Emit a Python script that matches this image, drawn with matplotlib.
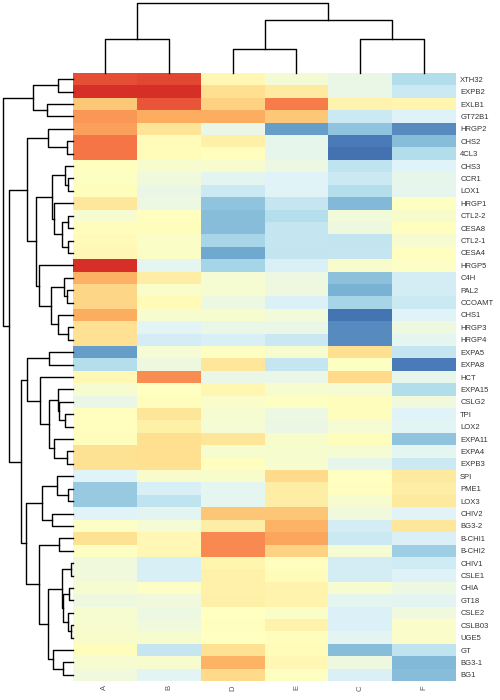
import numpy as np
import matplotlib

matplotlib.use("Agg")
import matplotlib.pyplot as plt

plt.rcParams["font.family"] = ["Liberation Sans", "DejaVu Sans"]

# rows in the order shown (top to bottom)
genes = ["XTH32", "EXPB2", "EXLB1", "GT72B1", "HRGP2", "CHS2", "4CL3", "CHS3",
         "CCR1", "LOX1", "HRGP1", "CTL2-2", "CESA8", "CTL2-1", "CESA4", "HRGP5",
         "C4H", "PAL2", "CCOAMT", "CHS1", "HRGP3", "HRGP4", "EXPA5", "EXPA8",
         "HCT", "EXPA15", "CSLG2", "TPI", "LOX2", "EXPA11", "EXPA4", "EXPB3",
         "SPI", "PME1", "LOX3", "CHIV2", "BG3-2", "B-CHI1", "B-CHI2", "CHIV1",
         "CSLE1", "CHIA", "GT18", "CSLE2", "CSLB03", "UGE5", "GT", "BG3-1", "BG1"]
samples = ["A", "B", "D", "E", "C", "F"]

# scaled expression per sample (column order as shown)
A = [1.4, 1.6, 0.6, 0.95, 0.88, 1.15, 1.15, 0.0, -0.03, 0.02, 0.3, -0.12, 0.03,
     0.07, 0.1, 1.6, 0.78, 0.48, 0.48, 0.8, 0.38, 0.38, -1.3, -0.72, 0.1, -0.12,
     -0.28, 0.0, 0.0, 0.03, 0.37, 0.38, -0.4, -0.95, -0.95, -0.4, -0.04, 0.37,
     -0.03, -0.2, -0.2, -0.12, -0.22, -0.12, -0.12, -0.08, 0.02, -0.12, -0.2]
B = [1.45, 1.6, 1.35, 0.8, 0.35, 0.05, 0.06, -0.1, -0.2, -0.28, -0.25, 0.0, 0.02,
     -0.05, -0.06, -0.34, 0.22, -0.07, 0.07, -0.12, -0.36, -0.5, -0.13, -0.22, 1.0,
     -0.01, 0.02, 0.32, 0.2, 0.4, 0.4, 0.4, -0.08, -0.46, -0.65, -0.35, -0.13, 0.1,
     0.1, -0.46, -0.46, -0.04, -0.2, -0.24, -0.2, -0.1, -0.6, -0.1, -0.36]
D = [0.1, 0.4, 0.5, 0.8, -0.28, 0.2, 0.0, -0.1, -0.35, -0.55, -1.0, -1.05, -1.05,
     -0.82, -1.22, -0.83, -0.14, -0.12, -0.25, -0.1, -0.28, -0.46, -0.02, 0.3,
     -0.28, 0.12, -0.07, -0.12, -0.14, 0.33, -0.1, 0.0, -0.08, -0.34, -0.34, 0.62,
     0.22, 1.02, 1.02, 0.13, 0.18, 0.18, 0.2, -0.01, 0.01, -0.01, 0.37, 0.75, 0.45]
E = [-0.15, 0.25, 1.1, 0.6, -1.3, -0.3, -0.3, -0.25, -0.4, -0.38, -0.6, -0.72, -0.6,
     -0.6, -0.62, -0.45, -0.25, -0.23, -0.43, -0.18, -0.28, -0.57, -0.1, -0.6,
     -0.28, -0.1, -0.02, -0.25, -0.26, -0.08, -0.1, -0.12, 0.45, 0.22, 0.22, 0.62,
     0.75, 0.85, 0.5, 0.0, 0.05, 0.15, 0.15, -0.05, 0.17, 0.02, 0.06, 0.1, -0.02]
C = [-0.28, -0.28, 0.15, -0.55, -1.0, -1.55, -1.62, -0.65, -0.55, -0.72, -1.08,
     -0.18, -0.22, -0.62, -0.6, -0.08, -1.03, -1.15, -0.83, -1.6, -1.45, -1.45, 0.4,
     -0.02, 0.45, -0.14, 0.02, 0.02, -0.13, 0.02, -0.14, -0.3, -0.01, 0.0, -0.12,
     -0.2, -0.5, -0.55, -0.13, -0.5, -0.5, -0.12, -0.33, -0.43, -0.43, -0.35, -1.05,
     -0.23, -0.45]
F = [-0.75, -0.55, 0.14, -0.42, -1.45, -1.05, -0.75, -0.4, -0.3, -0.32, -0.02,
     -0.08, 0.0, -0.12, 0.0, -0.04, -0.5, -0.5, -0.55, -0.4, -0.23, -0.33, -0.6,
     -1.55, -0.3, -0.75, -0.2, -0.4, -0.36, -1.0, -0.34, -0.55, 0.28, 0.23, 0.27,
     -0.38, 0.3, -0.45, -0.9, -0.53, -0.42, -0.24, -0.35, -0.2, -0.07, -0.07, -0.65,
     -1.08, -1.05]

# linkage as (left, right, height); ids >= n refer to earlier merges (n + k)
row_links = [
    (0, 1, 14.7), (2, 3, 25.7), (49, 50, 39.7),
    (5, 6, 6.3), (4, 52, 25.3),
    (8, 9, 4.7), (7, 54, 8.0), (11, 12, 5.3), (13, 14, 4.7), (56, 57, 10.7),
    (10, 58, 18.7), (55, 59, 21.3),
    (17, 18, 6.0), (16, 61, 8.7), (20, 21, 4.7), (19, 63, 15.3), (62, 64, 21.7),
    (15, 65, 34.0), (60, 66, 37.0), (53, 67, 46.3),
    (22, 23, 23.7), (27, 28, 7.7), (26, 70, 13.7), (25, 71, 14.7),
    (30, 31, 6.3), (29, 73, 19.0), (72, 74, 24.0), (24, 75, 33.0), (69, 76, 46.3),
    (33, 34, 4.7), (32, 78, 15.7), (35, 36, 20.7), (79, 80, 30.7),
    (37, 38, 13.7), (39, 40, 2.3), (41, 42, 3.7), (44, 45, 2.5), (43, 85, 5.3),
    (84, 86, 9.7), (83, 87, 11.3), (47, 48, 9.7), (46, 89, 19.7), (88, 90, 24.7),
    (82, 91, 33.7), (81, 92, 47.0), (77, 93, 52.0), (68, 94, 63.7), (51, 95, 69.7),
]
col_links = [(0, 1, 34.0), (2, 3, 24.0), (4, 5, 34.0), (7, 8, 53.0), (6, 9, 69.7)]


def draw_dendro(ax, links, n, side):
    pos = {i: i + 0.5 for i in range(n)}
    hgt = {i: 0.0 for i in range(n)}
    for k, (a, b, h) in enumerate(links):
        xs = [pos[a], pos[a], pos[b], pos[b]]
        ys = [hgt[a], h, h, hgt[b]]
        if side == "top":
            ax.plot(xs, ys, color="black", lw=1.0, clip_on=False)
        else:
            ax.plot(ys, xs, color="black", lw=1.0, clip_on=False)
        pos[n + k] = (pos[a] + pos[b]) / 2
        hgt[n + k] = h
    return max(hgt.values())


data = np.column_stack([A, B, D, E, C, F])
n_rows, n_cols = data.shape

fig = plt.figure(figsize=(5, 7), dpi=100)
ax_heat = fig.add_axes([0.146, 0.0271, 0.766, 0.8686])
ax_top = fig.add_axes([0.146, 0.8957, 0.766, 0.1043])
ax_left = fig.add_axes([0.0, 0.0271, 0.146, 0.8686])

ax_heat.pcolormesh(np.arange(n_cols + 1), np.arange(n_rows + 1), data,
                   cmap="RdYlBu_r", vmin=-2, vmax=2)
ax_heat.set_xlim(0, n_cols)
ax_heat.set_ylim(n_rows, 0)
ax_heat.yaxis.tick_right()
ax_heat.set_yticks(np.arange(n_rows) + 0.5)
ax_heat.set_yticklabels(genes, fontsize=5.5, color="#333333")
ax_heat.set_xticks(np.arange(n_cols) + 0.5)
ax_heat.set_xticklabels(samples, fontsize=5.5, color="#555555", rotation=90)
ax_heat.tick_params(length=0, pad=3)
for s in ax_heat.spines.values():
    s.set_visible(False)

# top dendrogram (columns)
top_max = draw_dendro(ax_top, col_links, n_cols, "top")
ax_top.set_xlim(0, n_cols)
ax_top.set_ylim(0, top_max * 1.05)
ax_top.axis("off")

# left dendrogram (rows)
left_max = draw_dendro(ax_left, row_links, n_rows, "left")
ax_left.set_ylim(n_rows, 0)
ax_left.set_xlim(left_max * 1.05, 0)
ax_left.axis("off")

fig.savefig("out.png", dpi=100)
